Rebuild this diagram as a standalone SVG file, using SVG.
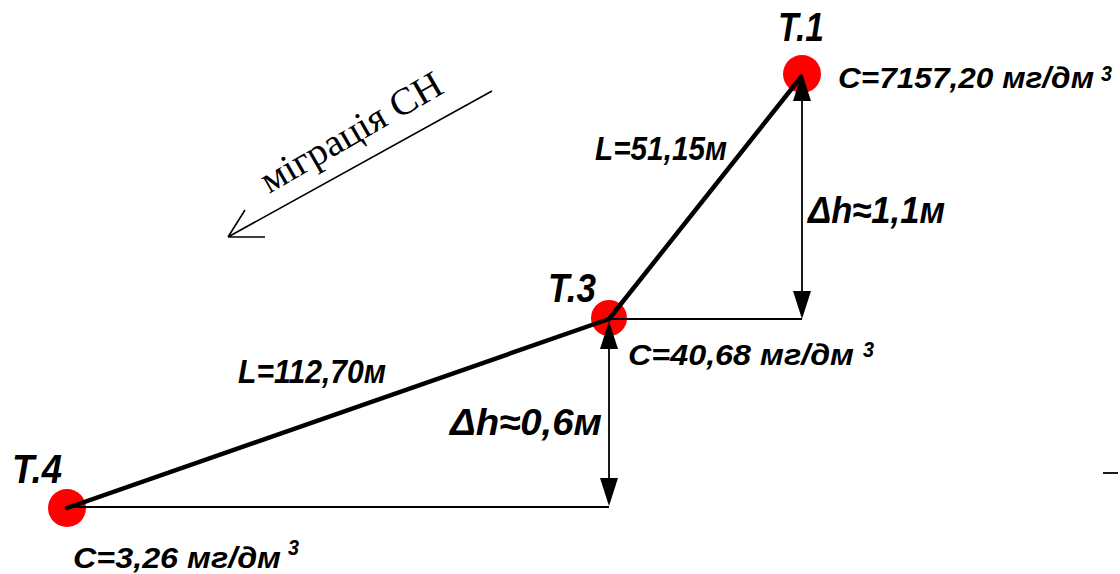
<svg xmlns="http://www.w3.org/2000/svg" width="1120" height="574" viewBox="0 0 1120 574">
<style>
.lbl{font-family:"Liberation Sans",Arial,sans-serif;font-style:italic;font-weight:bold;fill:#000}
.big{font-size:40px}
.mid{font-size:33px}
.dh{font-size:37px}
.c{font-size:29px}
.sup{font-size:22px}
.thick{stroke:#000;stroke-width:4.5;fill:none;stroke-linecap:round}
.thin{stroke:#000;stroke-width:1.8;fill:none}
.pt{fill:#ff0000}
.head{fill:#000}
.mig{font-family:"Liberation Serif","Times New Roman",serif;font-size:38px;fill:#000}
</style>
<rect width="1120" height="574" fill="#fff"/>
<g id="T1">
<circle class="pt" cx="802" cy="74" r="19"/>
<text class="lbl big" x="778" y="41" textLength="46" lengthAdjust="spacingAndGlyphs">T.1</text>
<text class="lbl c" x="838" y="88" textLength="256" lengthAdjust="spacingAndGlyphs">C=7157,20 мг/дм</text>
<text class="lbl sup" x="1101" y="81" textLength="11" lengthAdjust="spacingAndGlyphs">3</text>
</g>
<g id="T3">
<circle class="pt" cx="609" cy="318" r="18"/>
<text class="lbl big" x="548" y="302" textLength="48" lengthAdjust="spacingAndGlyphs">T.3</text>
<text class="lbl c" x="628" y="365" textLength="226" lengthAdjust="spacingAndGlyphs">C=40,68 мг/дм</text>
<text class="lbl sup" x="863" y="357" textLength="11" lengthAdjust="spacingAndGlyphs">3</text>
</g>
<g id="T4">
<circle class="pt" cx="67" cy="508" r="19"/>
<text class="lbl big" x="12" y="483" textLength="50" lengthAdjust="spacingAndGlyphs">T.4</text>
<text class="lbl c" x="73" y="568" textLength="208" lengthAdjust="spacingAndGlyphs">C=3,26 мг/дм</text>
<text class="lbl sup" x="288" y="555" textLength="11" lengthAdjust="spacingAndGlyphs">3</text>
</g>
<g id="connectors">
<line class="thick" x1="801" y1="77" x2="609" y2="319"/>
<line class="thick" x1="609" y1="319" x2="67" y2="508"/>
<line class="thin" x1="609" y1="319" x2="802" y2="319"/>
<line class="thin" x1="802" y1="95" x2="802" y2="300"/>
<path class="head" d="M802,73 L811,101 L793,101 Z"/>
<path class="head" d="M802,319 L811,291 L793,291 Z"/>
<line class="thin" x1="67" y1="507" x2="609" y2="507"/>
<line class="thin" x1="609" y1="340" x2="609" y2="485"/>
<path class="head" d="M609,321 L618,349 L600,349 Z"/>
<path class="head" d="M609,506 L618,478 L600,478 Z"/>
<line class="thin" x1="1103" y1="473" x2="1118" y2="473"/>
<g id="migration">
<path d="M492,91 L228,237 M228,237 L245,210 M228,237 L265,237" stroke="#000" stroke-width="1.6" fill="none"/>
</g>
</g>
<text class="lbl mid" x="595" y="160" textLength="132" lengthAdjust="spacingAndGlyphs">L=51,15м</text>
<text class="lbl mid" x="238" y="383" textLength="148" lengthAdjust="spacingAndGlyphs">L=112,70м</text>
<text class="lbl dh" x="808" y="223" textLength="137" lengthAdjust="spacingAndGlyphs">Δh≈1,1м</text>
<text class="lbl dh" x="450" y="435" textLength="152" lengthAdjust="spacingAndGlyphs">Δh≈0,6м</text>
<text class="mig" transform="translate(269,194) rotate(-30)" textLength="204" lengthAdjust="spacingAndGlyphs">міграція СН</text>
</svg>
